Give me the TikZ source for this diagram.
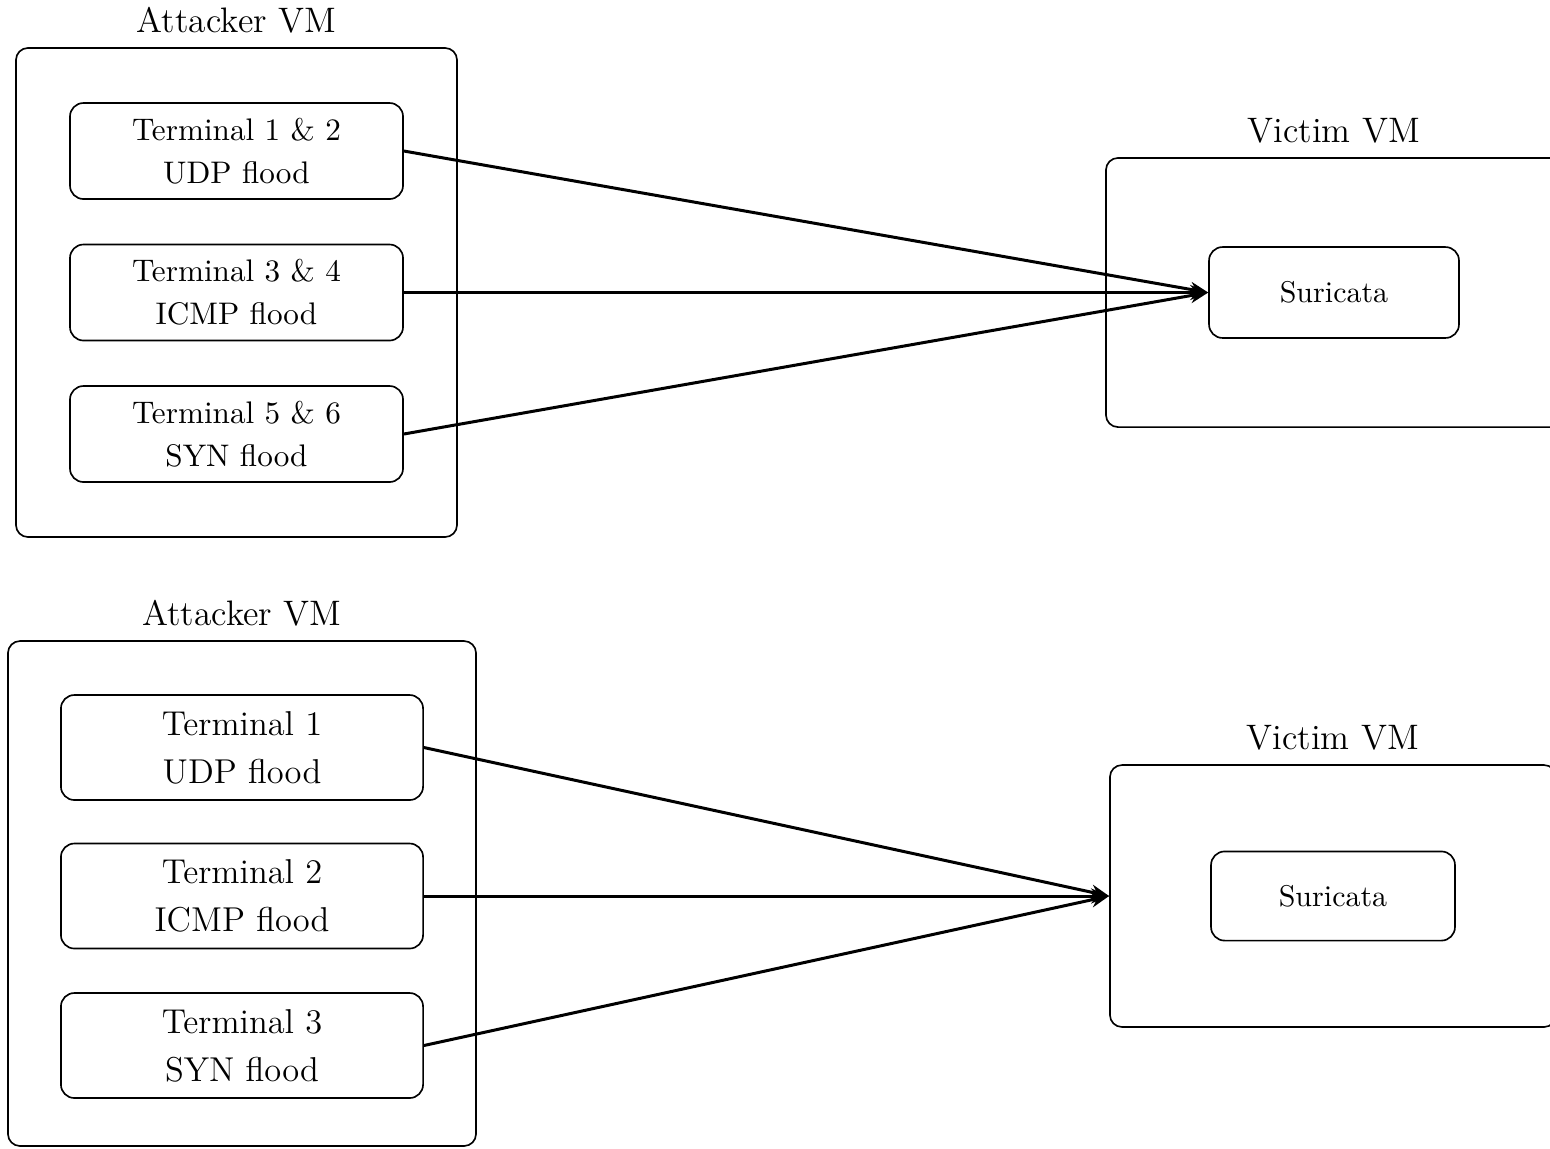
\documentclass[tikz,border=0pt]{standalone}
\usetikzlibrary{positioning,arrows.meta}
\tikzset{vmbox/.style={draw, line width=.55pt, rounded corners=4pt, inner sep=0}}
\tikzset{termbox/.style={draw, line width=.55pt, rounded corners=4.5pt, inner sep=0, align=center}}
\tikzset{vmtitle/.style={inner sep=0, font=\fontsize{11.8}{14}\selectfont}}
\tikzset{flow/.style={line width=1pt, -{Stealth[length=6pt,width=5pt]}}}

\begin{document}
\begin{tikzpicture}[x=.3333pt, y=-.3333pt]
\clip (0,0) rectangle (1550,1148);

% first setup
\node[vmbox, minimum width=147pt, minimum height=163pt] (atkA) at (236.5,292.5) {};
\node[vmtitle, above=4.5pt of atkA] (atkAt) {Attacker VM};
\node[termbox, minimum width=111pt, minimum height=32pt, font=\fontsize{10.4}{14.3}\selectfont] (udpA) at (236.5,151) {Terminal 1 \& 2\\UDP flood};
\node[termbox, minimum width=111pt, minimum height=32pt, font=\fontsize{10.4}{14.3}\selectfont] (icmpA) at (236.5,292.5) {Terminal 3 \& 4\\ICMP flood};
\node[termbox, minimum width=111pt, minimum height=32pt, font=\fontsize{10.4}{14.3}\selectfont] (synA) at (236.5,434) {Terminal 5 \& 6\\SYN flood};

\node[vmbox, minimum width=152pt, minimum height=89.7pt] (vicA) at (1334,292.5) {};
\node[vmtitle, above=4.5pt of vicA] (vicAt) {Victim VM};
\node[termbox, minimum width=83.3pt, minimum height=30.3pt, font=\fontsize{10}{12}\selectfont] (suriA) at (1334,292.5) {Suricata};

\draw[flow] (udpA.east) -- (suriA.west);
\draw[flow] (icmpA.east) -- (suriA.west);
\draw[flow] (synA.east) -- (suriA.west);

% second setup
\node[vmbox, minimum width=156pt, minimum height=168.3pt] (atkB) at (242,893.5) {};
\node[vmtitle, above=4.5pt of atkB] (atkBt) {Attacker VM};
\node[termbox, minimum width=120.7pt, minimum height=35pt, font=\fontsize{11.5}{16}\selectfont] (udpB) at (242,747.5) {Terminal 1\\UDP flood};
\node[termbox, minimum width=120.7pt, minimum height=35pt, font=\fontsize{11.5}{16}\selectfont] (icmpB) at (242,896) {Terminal 2\\ICMP flood};
\node[termbox, minimum width=120.7pt, minimum height=35pt, font=\fontsize{11.5}{16}\selectfont] (synB) at (242,1045.5) {Terminal 3\\SYN flood};

\node[vmbox, minimum width=148.7pt, minimum height=87.3pt] (vicB) at (1333,896) {};
\node[vmtitle, above=4.5pt of vicB] (vicBt) {Victim VM};
\node[termbox, minimum width=81.3pt, minimum height=29.7pt, font=\fontsize{10}{12}\selectfont] (suriB) at (1333,896) {Suricata};

\draw[flow] (udpB.east) -- (vicB.west);
\draw[flow] (icmpB.east) -- (vicB.west);
\draw[flow] (synB.east) -- (vicB.west);

\end{tikzpicture}
\end{document}
